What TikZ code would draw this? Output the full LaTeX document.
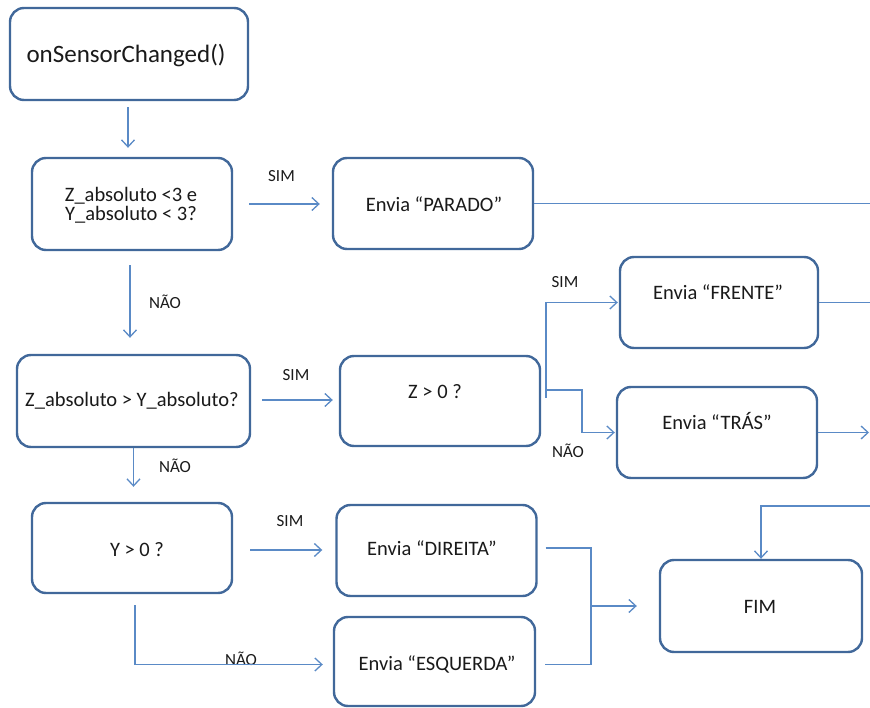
\documentclass[tikz,border=0pt]{standalone}
\usepackage{fontspec}
\setmainfont{Carlito}
\usetikzlibrary{arrows.meta}
\definecolor{boxline}{HTML}{41689A}
\definecolor{wire}{HTML}{5A8AC6}
\definecolor{ink}{HTML}{1A1A1A}
\begin{document}
\begin{tikzpicture}[x=1pt,y=-1pt,
  stepbox/.style={draw=boxline, line width=2.4pt, rounded corners=14pt, fill=white,
    inner sep=0pt},
  boxtext/.style={text=ink, inner sep=0pt, anchor=base, font=\fontsize{20.5}{19}\selectfont},
  tag/.style={text=ink, inner sep=0pt, anchor=base, font=\fontsize{17}{20}\selectfont},
  wireline/.style={draw=wire, line width=1.3pt},
  arr/.style={wireline, -{Straight Barb[length=7pt,width=13pt,line width=1.3pt]}}]
\useasboundingbox (0,0) rectangle (870,708);

% boxes
\node[stepbox, minimum width=238pt, minimum height=92pt] (start) at (129,54) {};
\node[stepbox, minimum width=200pt, minimum height=92pt] (q1) at (132,204) {};
\node[stepbox, minimum width=200pt, minimum height=91pt] (parado) at (433,203.5) {};
\node[stepbox, minimum width=233pt, minimum height=92pt] (q2) at (133.5,401) {};
\node[stepbox, minimum width=200pt, minimum height=90pt] (z0) at (440,401) {};
\node[stepbox, minimum width=198pt, minimum height=91pt] (frente) at (719,302.5) {};
\node[stepbox, minimum width=200pt, minimum height=91pt] (tras) at (717,432.5) {};
\node[stepbox, minimum width=200pt, minimum height=90pt] (q3) at (132,548) {};
\node[stepbox, minimum width=200pt, minimum height=91pt] (direita) at (436.5,550.5) {};
\node[stepbox, minimum width=201pt, minimum height=89pt] (esquerda) at (434.5,661.5) {};
\node[stepbox, minimum width=202pt, minimum height=92pt] (fim) at (761,606) {};

% box texts
\node[boxtext, font=\fontsize{25}{30}\selectfont] (start-t) at (126,63) {onSensorChanged()};
\node[boxtext, align=center, anchor=center] (q1-t) at (131,205) {Z\_absoluto <3 e\\Y\_absoluto < 3?};
\node[boxtext] (parado-t) at (434,211.5) {Envia “PARADO”};
\node[boxtext] (q2-t) at (132,406.5) {Z\_absoluto > Y\_absoluto?};
\node[boxtext] (z0-t) at (435,398.5) {Z > 0 ?};
\node[boxtext] (frente-t) at (718,299.5) {Envia “FRENTE”};
\node[boxtext] (tras-t) at (717,429.5) {Envia “TRÁS”};
\node[boxtext] (q3-t) at (137,556.5) {Y > 0 ?};
\node[boxtext] (direita-t) at (432,555.5) {Envia “DIREITA”};
\node[boxtext] (esquerda-t) at (437,670.5) {Envia “ESQUERDA”};
\node[boxtext] (fim-t) at (760,613.5) {FIM};

% branch labels
\node[tag] (l1) at (281.5,181.5) {SIM};
\node[tag] (l2) at (165,308.5) {NÃO};
\node[tag] (l3) at (296,380.5) {SIM};
\node[tag] (l4) at (175,472.5) {NÃO};
\node[tag] (l5) at (290,526.5) {SIM};
\node[tag] (l6) at (241,665) {NÃO};
\node[tag] (l7) at (565,287.5) {SIM};
\node[tag] (l8) at (568,457.5) {NÃO};

% free ends and junctions
\coordinate (paradoOut) at (870,203);
\coordinate (frenteOut) at (870,302.5);
\coordinate (trasOut) at (869,432.5);
\coordinate (fimIn) at (870,506);
\coordinate (zTop) at (546,398);
\coordinate (zFork) at (546,390);
\coordinate (zBend) at (582,390);
\coordinate (q3Down) at (135,605);
\coordinate (merge) at (591,606);

% connectors
\draw[arr, shorten <=6pt, shorten >=9pt] ([xshift=-1pt]start.south) -- ([xshift=-1pt]start.south |- q1.north);
\draw[arr, shorten <=16pt, shorten >=12pt] (q1.east) -- (q1.east -| parado.west);
\draw[wireline] (parado.east) -- (parado.east -| paradoOut);
\draw[arr, shorten <=14pt, shorten >=16pt] ([xshift=-2pt]q1.south) -- ([xshift=-2pt]q1.south |- q2.north);
\draw[arr, shorten <=11pt, shorten >=6pt] ([yshift=1pt]q2.east) -- ([yshift=1pt]q2.east -| z0.west);
\draw[arr, shorten >=15pt] (q2.south) -- (q2.south |- q3.north);
\draw[arr, shorten >=1pt] (zTop) |- (frente.west);
\draw[arr, shorten >=1pt] (zFork) -- (zBend) |- (tras.west);
\draw[wireline] (frente.east) -- (frente.east -| frenteOut);
\draw[arr] (tras.east) -- (tras.east -| trasOut);
\draw[arr] (fimIn) -| (fim.north);
\draw[arr, shorten <=17pt, shorten >=13pt] ([yshift=-2pt]q3.east) -- ([yshift=-2pt]q3.east -| direita.west);
\draw[arr, shorten >=10pt] (q3Down) |- ([yshift=-3pt]esquerda.west);
\draw[wireline] ([xshift=8pt, yshift=2.5pt]direita.east) -| (merge);
\draw[wireline] ([xshift=9pt, yshift=-3pt]esquerda.east) -| (merge);
\draw[arr, shorten >=22pt] (merge) -- (merge -| fim.west);
\end{tikzpicture}
\end{document}
